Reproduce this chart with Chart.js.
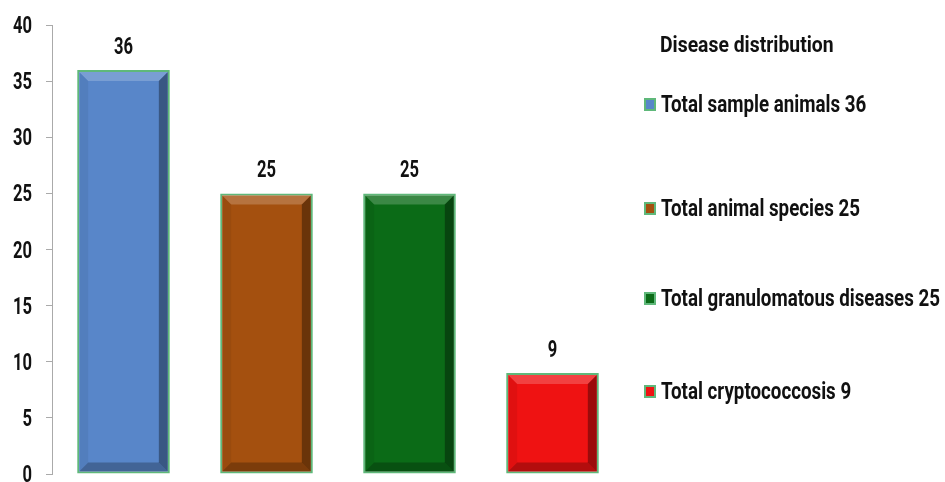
<!DOCTYPE html>
<html>
<head>
<meta charset="utf-8">
<script src="https://cdn.jsdelivr.net/npm/chart.js@4"></script>
<style>
  html, body { margin: 0; padding: 0; background: #fff; }
  #wrap { width: 945px; height: 482px; position: relative; }
</style>
</head>
<body>
<div id="wrap"><canvas id="chart"></canvas></div>
<script>
// Données du graphique
const categories = ['Total sample animals', 'Total animal species', 'Total granulomatous diseases', 'Total cryptococcosis'];
const values = [36, 25, 25, 9];
const barColors = ['#5886c9', '#a4500f', '#0b6b17', '#ef1212'];
const legendTitle = 'Disease distribution';
const yTicks = [0, 5, 10, 15, 20, 25, 30, 35, 40];

const FONT = '"Liberation Sans Narrow", "Arial Narrow", Roboto, "Liberation Sans", sans-serif';

// Texte étroit (compressé horizontalement)
function narrowText(ctx, text, x, y, size, sx, align) {
  ctx.save();
  ctx.font = 'bold ' + size + 'px ' + FONT;
  ctx.fillStyle = '#111';
  ctx.textAlign = align;
  ctx.translate(x, y);
  ctx.scale(sx, 1);
  ctx.fillText(text, 0, 0);
  ctx.restore();
}

// Effet biseauté sur les barres
const bevelPlugin = {
  id: 'bevel',
  afterDatasetsDraw(chart) {
    const ctx = chart.ctx;
    chart.getDatasetMeta(0).data.forEach(bar => {
      const l = bar.x - bar.width / 2 + 2, r = bar.x + bar.width / 2 - 2;
      const t = bar.y + 2, b = bar.base - 2;
      const e = Math.min(9, (r - l) / 4, (b - t) / 4);
      const quad = (pts, fill) => {
        ctx.beginPath();
        ctx.moveTo(pts[0][0], pts[0][1]);
        pts.slice(1).forEach(p => ctx.lineTo(p[0], p[1]));
        ctx.closePath();
        ctx.fillStyle = fill;
        ctx.fill();
      };
      ctx.save();
      quad([[l, t], [r, t], [r - e, t + e], [l + e, t + e]], 'rgba(255,255,255,0.2)');
      quad([[l, t], [l + e, t + e], [l + e, b - e], [l, b]], 'rgba(0,0,0,0.06)');
      quad([[r, t], [r, b], [r - e, b - e], [r - e, t + e]], 'rgba(0,0,0,0.35)');
      quad([[l, b], [l + e, b - e], [r - e, b - e], [r, b]], 'rgba(0,0,0,0.25)');
      ctx.restore();
    });
  }
};

// Étiquettes de valeurs au-dessus des barres + graduations
const valueLabels = {
  id: 'valueLabels',
  afterDatasetsDraw(chart) {
    const ctx = chart.ctx;
    chart.getDatasetMeta(0).data.forEach((bar, i) => {
      narrowText(ctx, String(values[i]), bar.x, bar.y - 16, 23, 0.72, 'center');
    });
    const y = chart.scales.y;
    yTicks.forEach(v => {
      narrowText(ctx, String(v), y.right - 20, y.getPixelForValue(v) + 8, 23, 0.72, 'right');
    });
  }
};

// Légende dessinée à droite
const sideLegend = {
  id: 'sideLegend',
  afterDraw(chart) {
    const ctx = chart.ctx;
    const x0 = 644;
    const rows = [104, 208, 298, 391];
    narrowText(ctx, legendTitle, 660, 52, 22, 0.88, 'left');
    categories.forEach((c, i) => {
      const y = rows[i];
      ctx.fillStyle = '#5fb87a';
      ctx.fillRect(x0, y - 6, 12, 13);
      ctx.fillStyle = barColors[i];
      ctx.fillRect(x0 + 2, y - 4, 8, 9);
      narrowText(ctx, c + ' ' + values[i], x0 + 17, y + 8, 23, 0.815, 'left');
    });
  }
};

new Chart(document.getElementById('chart'), {
  type: 'bar',
  data: {
    labels: categories,
    datasets: [{
      data: values,
      backgroundColor: barColors,
      borderColor: '#5fb87a',
      borderWidth: 2,
      borderSkipped: false,
      barPercentage: 0.72,
      categoryPercentage: 0.9
    }]
  },
  options: {
    responsive: true,
    maintainAspectRatio: false,
    animation: false,
    layout: { padding: { top: 25, right: 321, bottom: 8, left: 0 } },
    plugins: {
      legend: { display: false },
      tooltip: { enabled: false }
    },
    scales: {
      x: { display: false },
      y: {
        min: 0,
        max: 40,
        afterBuildTicks(scale) { scale.ticks = yTicks.map(v => ({ value: v })); },
        afterFit(scale) { scale.width = 52; },
        border: { display: true, color: '#aaa', width: 1 },
        grid: { drawOnChartArea: false, tickLength: 6, color: '#aaa' },
        ticks: { display: false }
      }
    }
  },
  plugins: [bevelPlugin, valueLabels, sideLegend]
});
</script>
</body>
</html>
